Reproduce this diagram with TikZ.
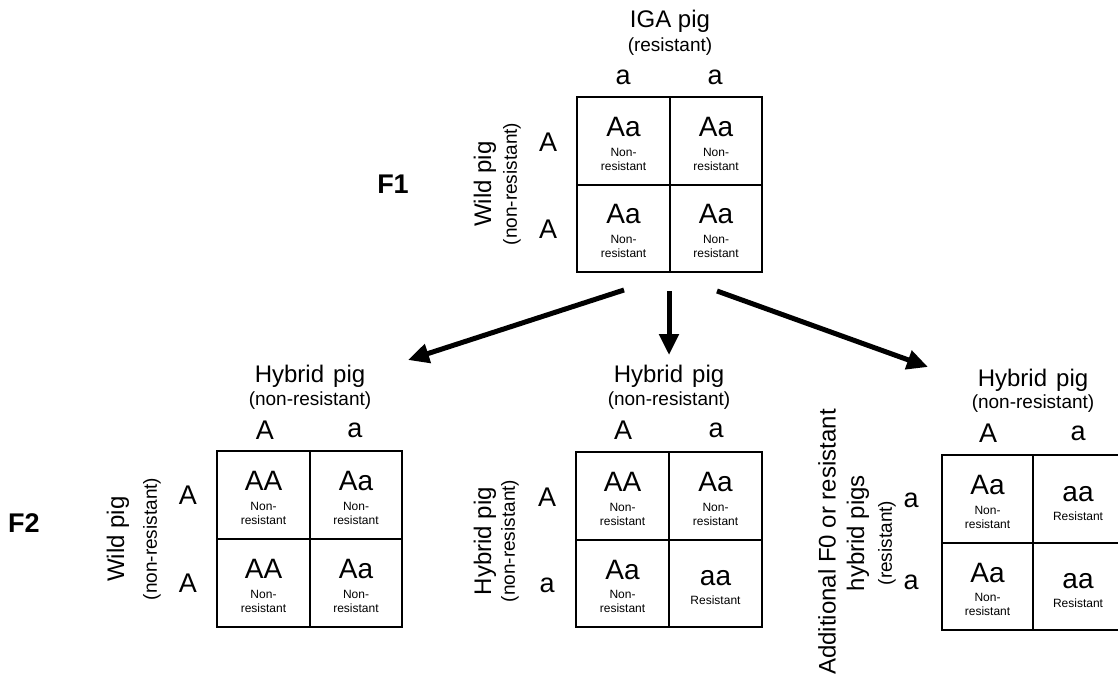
\documentclass[tikz,border=0pt]{standalone}
\usepackage{fontspec}
\setmainfont{Liberation Sans}
\usetikzlibrary{arrows.meta}
\newcommand{\pcellnr}[4]{%
  \node[geno] (#1g) at (#2,#3+30) {#4};
  \node[small] (#1n) at (#2,#3+55) {Non-};
  \node[small] (#1r) at (#2,#3+69) {resistant};
}
\newcommand{\pcellr}[4]{%
  \node[geno] (#1g) at (#2,#3+39) {#4};
  \node[small] (#1r) at (#2,#3+61) {Resistant};
}
\begin{document}
\begin{tikzpicture}[x=1pt,y=-1pt,
  title/.style={font=\fontsize{24}{28}\selectfont, inner sep=0pt},
  sub/.style={font=\fontsize{19}{22}\selectfont, inner sep=0pt},
  allele/.style={font=\fontsize{27}{30}\selectfont, inner sep=0pt},
  geno/.style={font=\fontsize{28}{30}\selectfont, inner sep=0pt},
  small/.style={font=\fontsize{12}{14}\selectfont, inner sep=0pt},
  genlabel/.style={font=\fontsize{27}{30}\selectfont\bfseries, inner sep=0pt},
  square/.style={draw, line width=2pt, inner sep=0pt, minimum width=#1},
  square/.default=185pt,
  bigarrow/.style={line width=5pt, -{Triangle[length=21pt,width=19pt]}},
]
\useasboundingbox[fill=white] (0,0) rectangle (1118,677);

% ---------------- F1 ----------------
\node[genlabel] (F1) at (393,184) {F1};
\node[title] (igat) at (670,21) {IGA pig};
\node[sub] (igas) at (670,47) {(resistant)};
\node[allele] (c1a) at (623,77) {a};
\node[allele] (c1b) at (715,77) {a};
\node[allele] (r1a) at (548,142) {A};
\node[allele] (r1b) at (548,229) {A};
\node[title, rotate=90] (w1t) at (485,184) {Wild pig};
\node[sub, rotate=90] (w1s) at (512,184) {(non-resistant)};
\node[square, minimum height=175pt] (G1) at (669.5,184.5) {};
\draw[line width=2pt] (G1.north) -- (G1.south) (G1.west) -- (G1.east);
\pcellnr{a11}{623.5}{97}{Aa}
\pcellnr{a12}{716}{97}{Aa}
\pcellnr{a21}{623.5}{184}{Aa}
\pcellnr{a22}{716}{184}{Aa}

% ---------------- arrows ----------------
\coordinate (s1) at (624,290); \coordinate (t1) at (408,360);
\coordinate (s2) at (669,291); \coordinate (t2) at (669,355);
\coordinate (s3) at (717,291); \coordinate (t3) at (928,367);
\draw[bigarrow] (s1) -- (t1);
\draw[bigarrow] (s2) -- (t2);
\draw[bigarrow] (s3) -- (t3);

% ---------------- F2 left ----------------
\node[genlabel] (F2) at (24,523) {F2};
\node[title] (lt) at (310,376) {Hybrid\hspace{0.1em} pig};
\node[sub] (ls) at (310,401) {(non-resistant)};
\node[allele] (lca) at (265,430) {A};
\node[allele] (lcb) at (355,430) {a};
\node[allele] (lra) at (188,495) {A};
\node[allele] (lrb) at (188,583) {A};
\node[title, rotate=90] (lwt) at (118,539) {Wild pig};
\node[sub, rotate=90] (lws) at (152,539) {(non-resistant)};
\node[square, minimum height=176pt] (G2) at (309.5,539) {};
\draw[line width=2pt] (G2.north) -- (G2.south) (G2.west) -- (G2.east);
\pcellnr{b11}{263.5}{451}{AA}
\pcellnr{b12}{356}{451}{Aa}
\pcellnr{b21}{263.5}{539}{AA}
\pcellnr{b22}{356}{539}{Aa}

% ---------------- F2 middle ----------------
\node[title] (mt) at (669,376) {Hybrid\hspace{0.1em} pig};
\node[sub] (ms) at (669,401) {(non-resistant)};
\node[allele] (mca) at (623,430) {A};
\node[allele] (mcb) at (716,430) {a};
\node[allele] (mra) at (547,497) {A};
\node[allele] (mrb) at (547,585) {a};
\node[title, rotate=90] (mht) at (485,541) {Hybrid pig};
\node[sub, rotate=90] (mhs) at (510,541) {(non-resistant)};
\node[square=186pt, minimum height=175pt] (G3) at (669,539.5) {};
\draw[line width=2pt] (G3.north) -- (G3.south) (G3.west) -- (G3.east);
\pcellnr{m11}{622.5}{452}{AA}
\pcellnr{m12}{715.5}{452}{Aa}
\pcellnr{m21}{622.5}{539.5}{Aa}
\pcellr{m22}{715.5}{539.5}{aa}

% ---------------- F2 right ----------------
\node[title] (rt) at (1033,380) {Hybrid\hspace{0.1em} pig};
\node[sub] (rs) at (1033,404) {(non-resistant)};
\node[allele] (rca) at (988,433) {A};
\node[allele] (rcb) at (1078,433) {a};
\node[allele] (rra) at (911,500) {a};
\node[allele] (rrb) at (911,582) {a};
\node[title, rotate=90] (radd) at (827,542) {Additional F0 or resistant};
\node[title, rotate=90] (rhyb) at (858,533) {hybrid pigs};
\node[sub, rotate=90] (rres) at (887,543) {(resistant)};
\node[square=182pt, minimum height=175pt] (G4) at (1033,542.5) {};
\draw[line width=2pt] (G4.north) -- (G4.south) (G4.west) -- (G4.east);
\pcellnr{r11}{987.5}{455}{Aa}
\pcellr{r12}{1078}{455}{aa}
\pcellnr{r21}{987.5}{542.5}{Aa}
\pcellr{r22}{1078}{542.5}{aa}
\end{tikzpicture}
\end{document}
